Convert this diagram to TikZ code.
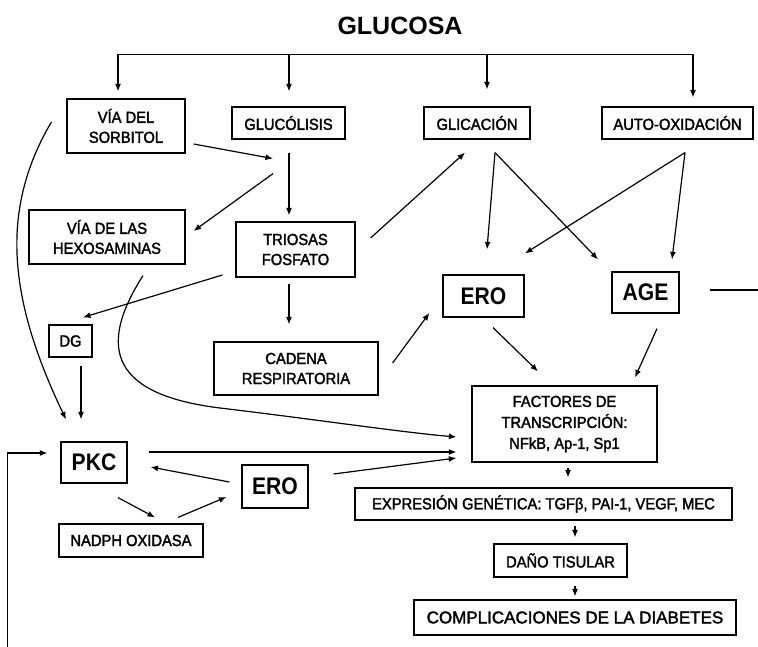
\documentclass[tikz,border=0pt]{standalone}
\usepackage{fontspec}
\setmainfont{Liberation Sans}
\newfontfamily\cajafont[FakeStretch=0.92, FakeBold=2]{Liberation Sans}
\newfontfamily\anchafont[FakeBold=2]{Liberation Sans}
\newfontfamily\grandefont[FakeStretch=0.88]{Liberation Sans}
\usetikzlibrary{arrows.meta}
\tikzset{
  >={Latex[length=7.5pt,width=6pt]},
  caja/.style={draw, line width=1.2pt, inner sep=0pt, align=center, font=\cajafont\fontsize{16}{20}\selectfont},
  grande/.style={draw, line width=1.2pt, inner sep=0pt, font=\grandefont\bfseries\fontsize{24}{28}\selectfont},
  flecha/.style={line width=1.2pt, ->},
  linea/.style={line width=1.2pt}
}
\begin{document}
\begin{tikzpicture}[x=1pt, y=-1pt]
\useasboundingbox (0,0) rectangle (758,647);
\node[font=\bfseries\fontsize{25}{30}\selectfont] (glucosa) at (400,26) {GLUCOSA};

\node[caja, minimum width=118pt, minimum height=54pt] (sorbitol) at (126,126) {VÍA DEL\\SORBITOL};
\node[caja, minimum width=113pt, minimum height=32pt] (glucolisis) at (288.5,123) {GLUCÓLISIS};
\node[caja, minimum width=106pt, minimum height=32pt] (glicacion) at (477,123) {GLICACIÓN};
\node[caja, minimum width=151pt, minimum height=32pt] (autoox) at (677.5,123) {AUTO-OXIDACIÓN};
\node[caja, minimum width=156pt, minimum height=54pt] (hexos) at (107,237) {VÍA DE LAS\\HEXOSAMINAS};
\node[caja, minimum width=119pt, minimum height=55pt] (triosas) at (295.5,249.5) {TRIOSAS\\FOSFATO};
\node[grande, minimum width=81pt, minimum height=42pt] (ero1) at (483.5,296) {ERO};
\node[grande, minimum width=67pt, minimum height=41pt] (age) at (645.5,292.5) {AGE};
\node[caja, minimum width=43pt, minimum height=32pt] (dg) at (70.5,341) {DG};
\node[caja, minimum width=164pt, minimum height=53pt] (cadena) at (296,368.5) {CADENA\\RESPIRATORIA};
\node[caja, minimum width=185pt, minimum height=76pt, font=\cajafont\fontsize{16}{21}\selectfont] (factores) at (564.5,424) {FACTORES DE\\TRANSCRIPCIÓN:\\NFkB, Ap-1, Sp1};
\node[grande, minimum width=66pt, minimum height=41pt] (pkc) at (94,462.5) {PKC};
\node[grande, minimum width=66pt, minimum height=43pt] (ero2) at (275,486.5) {ERO};
\node[caja, minimum width=144pt, minimum height=33pt] (nadph) at (131,540.5) {NADPH OXIDASA};
\node[caja, minimum width=377pt, minimum height=32pt] (expresion) at (543.5,504) {EXPRESIÓN GENÉTICA: TGFβ, PAI-1, VEGF, MEC};
\node[caja, minimum width=133pt, minimum height=33pt] (dano) at (560.5,560.5) {DAÑO TISULAR};
\node[caja, minimum width=322pt, minimum height=35pt, font=\anchafont\fontsize{17}{20}\selectfont] (compl) at (575,617.5) {COMPLICACIONES DE LA DIABETES};

\draw[linea] ([shift={(-8,-44)}]sorbitol.north) -- ([shift={(15.5,-52)}]autoox.north);
\draw[flecha] ([shift={(-8,-44)}]sorbitol.north) -- ([shift={(-8,-7)}]sorbitol.north);
\draw[flecha] ([shift={(0.5,-52)}]glucolisis.north) -- ([shift={(0.5,-15)}]glucolisis.north);
\draw[flecha] ([shift={(10,-52)}]glicacion.north) -- ([shift={(10,-17)}]glicacion.north);
\draw[flecha] ([shift={(15.5,-52)}]autoox.north) -- ([shift={(15.5,-9)}]autoox.north);

\draw[flecha] ([shift={(8,18)}]sorbitol.east) -- ([shift={(-15.5,19)}]glucolisis.south);
\draw[flecha] ([shift={(-15.5,34)}]glucolisis.south) -- ([shift={(8,-6)}]hexos.east);
\draw[flecha] ([shift={(0.5,13)}]glucolisis.south) -- ([shift={(-6.5,-6)}]triosas.north);
\draw[flecha] ([shift={(15,-11.5)}]triosas.east) -- ([shift={(-12,13)}]glicacion.south);
\draw[flecha] ([shift={(18,13)}]glicacion.south) -- ([shift={(3.5,-25)}]ero1.north);
\draw[flecha] ([shift={(18,13)}]glicacion.south) -- ([shift={(-47.5,-12)}]age.north);
\draw[flecha] ([shift={(7.5,13)}]autoox.south) -- ([shift={(41.5,-21)}]ero1.north);
\draw[flecha] ([shift={(7.5,13)}]autoox.south) -- ([shift={(26.5,-12)}]age.north);
\draw[flecha] ([shift={(-13,25.5)}]triosas.west) -- ([shift={(12.5,-7)}]dg.north);
\draw[flecha] ([shift={(-6.5,6)}]triosas.south) -- ([shift={(-7,-17)}]cadena.north);
\draw[flecha] ([shift={(14,-5.5)}]cadena.east) -- ([shift={(-13,17)}]ero1.west);
\draw[flecha] ([shift={(9.5,10)}]ero1.south) -- ([shift={(-26.5,-14)}]factores.north);
\draw[flecha] ([shift={(11.5,15)}]age.south) -- ([shift={(70.5,-8)}]factores.north);
\draw[linea] ([shift={(30,-2.5)}]age.east) -- ++(49,0);
\draw[flecha] ([shift={(10.5,8)}]dg.south) -- ([shift={(-13,-22)}]pkc.north);
\draw[flecha] ([shift={(-15,-4)}]sorbitol.west) .. controls +(-50,85) and +(-60,-125) .. ([shift={(-28,-22)}]pkc.north);
\draw[flecha] ([shift={(36,11)}]hexos.south) .. controls +(-48,75) and +(-105,-13) .. (220,408) .. controls +(100,12) and +(-57,-5) .. ([shift={(-15,13)}]factores.west);
\draw[flecha] ([shift={(21,-10.5)}]pkc.east) -- ([shift={(-15,28)}]factores.west);
\draw[flecha] ([shift={(25,-12.5)}]ero2.east) -- ([shift={(-15,34)}]factores.west);
\draw[flecha] ([shift={(-12,-4.5)}]ero2.west) -- ([shift={(23,4.5)}]pkc.east);
\draw[flecha] ([shift={(24,14)}]pkc.south) -- ([shift={(24,-6)}]nadph.north);
\draw[flecha] ([shift={(47,-6)}]nadph.north) -- ([shift={(-15,10.5)}]ero2.west);
\draw[flecha] ([shift={(-53,184.5)}]pkc.west) |- ([shift={(-13,-9.5)}]pkc.west);
\draw[flecha] ([shift={(3.5,5)}]factores.south) -- ([shift={(24.5,-10)}]expresion.north);
\draw[flecha] ([shift={(31.5,5)}]expresion.south) -- ([shift={(14.5,-6)}]dano.north);
\draw[flecha] ([shift={(14.5,8)}]dano.south) -- ([shift={(0,-3)}]compl.north);
\end{tikzpicture}
\end{document}
